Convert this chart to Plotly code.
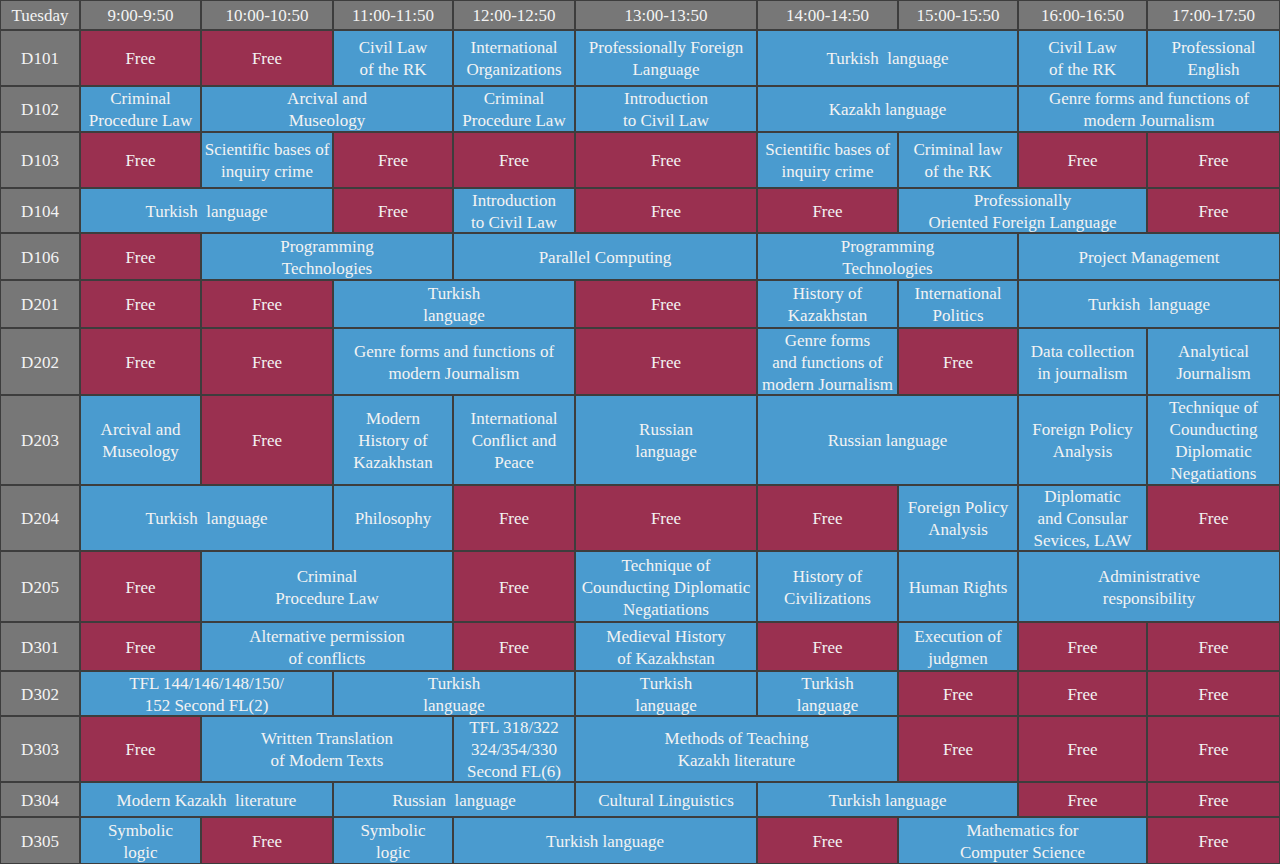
import plotly.graph_objects as go

# ---------------- data ----------------
day = "Tuesday"
times = ["9:00-9:50", "10:00-10:50", "11:00-11:50", "12:00-12:50", "13:00-13:50",
         "14:00-14:50", "15:00-15:50", "16:00-16:50", "17:00-17:50"]
rooms = ["D101", "D102", "D103", "D104", "D106", "D201", "D202", "D203",
         "D204", "D205", "D301", "D302", "D303", "D304", "D305"]

F = "Free"
schedule_D101 = [(F, 1), (F, 1), ("Civil Law<br>of the RK", 1), ("International<br>Organizations", 1),
                 ("Professionally Foreign<br>Language", 1), ("Turkish  language", 2),
                 ("Civil Law<br>of the RK", 1), ("Professional<br>English", 1)]
schedule_D102 = [("Criminal<br>Procedure Law", 1), ("Arcival and<br>Museology", 2),
                 ("Criminal<br>Procedure Law", 1), ("Introduction<br>to Civil Law", 1),
                 ("Kazakh language", 2), ("Genre forms and functions of<br>modern Journalism", 2)]
schedule_D103 = [(F, 1), ("Scientific bases of<br>inquiry crime", 1), (F, 1), (F, 1), (F, 1),
                 ("Scientific bases of<br>inquiry crime", 1), ("Criminal law<br>of the RK", 1), (F, 1), (F, 1)]
schedule_D104 = [("Turkish  language", 2), (F, 1), ("Introduction<br>to Civil Law", 1), (F, 1), (F, 1),
                 ("Professionally<br>Oriented Foreign Language", 2), (F, 1)]
schedule_D106 = [(F, 1), ("Programming<br>Technologies", 2), ("Parallel Computing", 2),
                 ("Programming<br>Technologies", 2), ("Project Management", 2)]
schedule_D201 = [(F, 1), (F, 1), ("Turkish<br>language", 2), (F, 1), ("History of<br>Kazakhstan", 1),
                 ("International<br>Politics", 1), ("Turkish  language", 2)]
schedule_D202 = [(F, 1), (F, 1), ("Genre forms and functions of<br>modern Journalism", 2), (F, 1),
                 ("Genre forms<br>and functions of<br>modern Journalism", 1), (F, 1),
                 ("Data collection<br>in journalism", 1), ("Analytical<br>Journalism", 1)]
schedule_D203 = [("Arcival and<br>Museology", 1), (F, 1), ("Modern<br>History of<br>Kazakhstan", 1),
                 ("International<br>Conflict and<br>Peace", 1), ("Russian<br>language", 1),
                 ("Russian language", 2), ("Foreign Policy<br>Analysis", 1),
                 ("Technique of<br>Counducting<br>Diplomatic<br>Negatiations", 1)]
schedule_D204 = [("Turkish  language", 2), ("Philosophy", 1), (F, 1), (F, 1), (F, 1),
                 ("Foreign Policy<br>Analysis", 1), ("Diplomatic<br>and Consular<br>Sevices, LAW", 1), (F, 1)]
schedule_D205 = [(F, 1), ("Criminal<br>Procedure Law", 2), (F, 1),
                 ("Technique of<br>Counducting Diplomatic<br>Negatiations", 1),
                 ("History of<br>Civilizations", 1), ("Human Rights", 1),
                 ("Administrative<br>responsibility", 2)]
schedule_D301 = [(F, 1), ("Alternative permission<br>of conflicts", 2), (F, 1),
                 ("Medieval History<br>of Kazakhstan", 1), (F, 1), ("Execution of<br>judgmen", 1), (F, 1), (F, 1)]
schedule_D302 = [("TFL 144/146/148/150/<br>152 Second FL(2)", 2), ("Turkish<br>language", 2),
                 ("Turkish<br>language", 1), ("Turkish<br>language", 1), (F, 1), (F, 1), (F, 1)]
schedule_D303 = [(F, 1), ("Written Translation<br>of Modern Texts", 2),
                 ("TFL 318/322<br>324/354/330<br>Second FL(6)", 1),
                 ("Methods of Teaching<br>Kazakh literature", 2), (F, 1), (F, 1), (F, 1)]
schedule_D304 = [("Modern Kazakh  literature", 2), ("Russian  language", 2), ("Cultural Linguistics", 1),
                 ("Turkish language", 2), (F, 1), (F, 1)]
schedule_D305 = [("Symbolic<br>logic", 1), (F, 1), ("Symbolic<br>logic", 1), ("Turkish language", 2),
                 (F, 1), ("Mathematics for<br>Computer Science", 2), (F, 1)]

schedules = [schedule_D101, schedule_D102, schedule_D103, schedule_D104, schedule_D106,
             schedule_D201, schedule_D202, schedule_D203, schedule_D204, schedule_D205,
             schedule_D301, schedule_D302, schedule_D303, schedule_D304, schedule_D305]

# ---------------- layout (grid geometry, pixels) ----------------
col_edges = [0, 80, 201, 333, 453, 575, 757, 898, 1018, 1147, 1280]
row_edges = [0, 30, 86, 132, 188, 233, 280, 328, 395, 485, 551, 622, 671, 716, 782, 817, 864]

GRAY = "#777777"
RED = "#9a3050"
BLUE = "#4a9bcf"
BORDER = "#3d3d3d"
TXT = "#f3f3f3"
FONT = "Times New Roman, Liberation Serif, DejaVu Serif, serif"

cells = []  # (x0, x1, y0, y1, color, text)
cells.append((col_edges[0], col_edges[1], row_edges[0], row_edges[1], GRAY, day))
for i, t in enumerate(times):
    cells.append((col_edges[i + 1], col_edges[i + 2], row_edges[0], row_edges[1], GRAY, t))
for r, room in enumerate(rooms):
    y0, y1 = row_edges[r + 1], row_edges[r + 2]
    cells.append((col_edges[0], col_edges[1], y0, y1, GRAY, room))
    c = 1
    for text, span in schedules[r]:
        x0, x1 = col_edges[c], col_edges[c + span]
        cells.append((x0, x1, y0, y1, RED if text == F else BLUE, text))
        c += span

fig = go.Figure()
fig.add_trace(go.Bar(
    orientation="h",
    base=[c[0] for c in cells],
    x=[c[1] - c[0] for c in cells],
    y=[(c[2] + c[3]) / 2 for c in cells],
    width=[c[3] - c[2] for c in cells],
    marker=dict(color=[c[4] for c in cells], line=dict(color=BORDER, width=2)),
    hoverinfo="skip",
    showlegend=False,
))
fig.add_trace(go.Scatter(
    x=[(c[0] + c[1]) / 2 for c in cells],
    y=[(c[2] + c[3]) / 2 + 2 for c in cells],
    text=[c[5] for c in cells],
    mode="text",
    textposition="middle center",
    textfont=dict(family=FONT, size=17, color=TXT),
    hoverinfo="skip",
    showlegend=False,
))

fig.update_layout(
    width=1280, height=864,
    margin=dict(l=0, r=0, t=0, b=0),
    paper_bgcolor=BORDER, plot_bgcolor=BORDER,
    font=dict(family=FONT, size=17, color=TXT),
    barmode="overlay", bargap=0,
    xaxis=dict(range=[0, 1280], visible=False, fixedrange=True),
    yaxis=dict(range=[864, 0], visible=False, fixedrange=True),
)

fig.write_html("out.html", config={"displayModeBar": False},
               post_script="document.body.style.margin='0px';document.body.style.overflow='hidden';")
